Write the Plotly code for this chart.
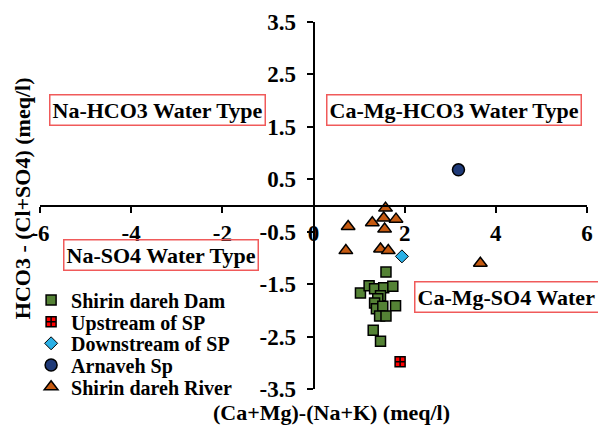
import plotly.graph_objects as go

# ---------------- data ----------------
dam_x = [1.59, 1.03, 1.22, 1.34, 1.54, 1.74, 1.47, 1.41, 1.34, 1.38, 1.52, 1.80, 1.45, 1.59, 1.31, 1.47]
dam_y = [-1.27, -1.67, -1.53, -1.59, -1.57, -1.54, -1.72, -1.78, -1.86, -1.97, -1.92, -1.91, -2.11, -2.11, -2.38, -2.59]

up_x = [1.90]
up_y = [-2.98]

down_x = [1.94]
down_y = [-0.97]

arn_x = [3.18]
arn_y = [0.68]

river_x = [1.58, 1.29, 1.54, 1.81, 1.56, 0.76, 0.71, 1.47, 1.64, 3.66]
river_y = [-0.05, -0.33, -0.24, -0.26, -0.45, -0.40, -0.86, -0.83, -0.86, -1.10]

series_names = ["Shirin dareh Dam", "Upstream of SP", "Downstream of SP", "Arnaveh Sp", "Shirin dareh River"]
y_ticks = [-3.5, -2.5, -1.5, -0.5, 0.5, 1.5, 2.5, 3.5]
x_ticks = [-6, -4, -2, 0, 2, 4, 6]
box_labels = ["Na-HCO3 Water Type", "Ca-Mg-HCO3 Water Type", "Na-SO4 Water Type", "Ca-Mg-SO4 Water Type"]
x_title = "(Ca+Mg)-(Na+K) (meq/l)"
y_title = "HCO3 - (Cl+SO4) (meq/l)"

# ---------------- layout geometry ----------------
W, H = 598, 426
ML, MR, MT, MB = 40, 5, 22, 37
PW, PH = W - ML - MR, H - MT - MB

def px2paper(px, py):
    return (px - ML) / PW, (H - MB - py) / PH

FONT = "Liberation Serif"
BLACK = "black"

fig = go.Figure()

styles = [
    dict(symbol="square", color="#548235", size=10, line=dict(color=BLACK, width=1.5)),
    dict(symbol="square-cross", color="#FF0000", size=10, line=dict(color=BLACK, width=1.5)),
    dict(symbol="diamond", color="#2BB0E6", size=10, line=dict(color=BLACK, width=1)),
    dict(symbol="circle", color="#1F3A78", size=12, line=dict(color=BLACK, width=1.5)),
    dict(symbol="triangle-up", color="#C55A11", size=12, line=dict(color=BLACK, width=1.5)),
]
xs = [dam_x, up_x, down_x, arn_x, river_x]
ys = [dam_y, up_y, down_y, arn_y, river_y]
legend_ids = ["legend", "legend2", "legend3", "legend4", "legend5"]

for name, x, y, st, lid in zip(series_names, xs, ys, styles, legend_ids):
    fig.add_trace(go.Scatter(x=x, y=y, mode="markers", name=name, marker=st,
                             legend=lid, cliponaxis=False))

# legends (one per row to control row spacing)
row_centers = [300, 321.7, 343.3, 365, 386.7]
legend_layout = {}
for lid, rc in zip(legend_ids, row_centers):
    lx, ly = px2paper(31, rc)
    legend_layout[lid] = dict(x=lx, xanchor="left", y=ly, yanchor="middle",
                              bgcolor="rgba(0,0,0,0)", borderwidth=0,
                              font=dict(family=FONT, size=20, color=BLACK, weight="bold"))

annotations = []
# water type boxes
box_pos = [(158.5, 110.5, "center"), (459, 109.5, "center"), (162.5, 254.5, "center"), (418, 297, "left")]
for lab, (bx, by, anc) in zip(box_labels, box_pos):
    ax_, ay_ = px2paper(bx, by)
    annotations.append(dict(text=lab, x=ax_, y=ay_, xref="paper", yref="paper",
                            xanchor=anc, yanchor="middle", showarrow=False,
                            font=dict(family=FONT, size=22, color=BLACK, weight="bold"),
                            bordercolor="#F05A5A", borderwidth=1.5, borderpad=2,
                            bgcolor="rgba(0,0,0,0)"))
# axis titles
tx, ty = px2paper(335, 412)
annotations.append(dict(text=x_title, x=tx, y=ty, xref="paper", yref="paper",
                        xanchor="center", yanchor="middle", showarrow=False,
                        font=dict(family=FONT, size=22, color=BLACK, weight="bold")))
tx, ty = px2paper(22, 198)
annotations.append(dict(text=y_title, x=tx, y=ty, xref="paper", yref="paper",
                        xanchor="center", yanchor="middle", showarrow=False, textangle=-90,
                        font=dict(family=FONT, size=22, color=BLACK, weight="bold")))

tickfont = dict(family=FONT, size=23, color=BLACK, weight="bold")
fig.update_layout(
    width=W, height=H,
    margin=dict(l=ML, r=MR, t=MT, b=MB),
    paper_bgcolor="white", plot_bgcolor="white",
    showlegend=True,
    annotations=annotations,
    xaxis=dict(range=[-6, 6], tickvals=x_ticks, ticktext=[str(v) for v in x_ticks],
               anchor="free", position=0.5, showline=True, linecolor=BLACK, linewidth=2,
               ticks="outside", ticklen=6, tickwidth=2, tickcolor=BLACK,
               ticklabeloverflow="allow", ticklabelstandoff=1,
               showgrid=False, zeroline=False, tickfont=tickfont, fixedrange=True),
    yaxis=dict(range=[-3.5, 3.5], tickvals=y_ticks, ticktext=[f"{v:.1f}" for v in y_ticks],
               anchor="free", position=0.5, showline=True, linecolor=BLACK, linewidth=2,
               ticks="outside", ticklen=6, tickwidth=2, tickcolor=BLACK,
               ticklabeloverflow="allow", ticklabelstandoff=6,
               showgrid=False, zeroline=False, tickfont=tickfont, fixedrange=True),
    **legend_layout,
)

fig.write_html("out.html")
